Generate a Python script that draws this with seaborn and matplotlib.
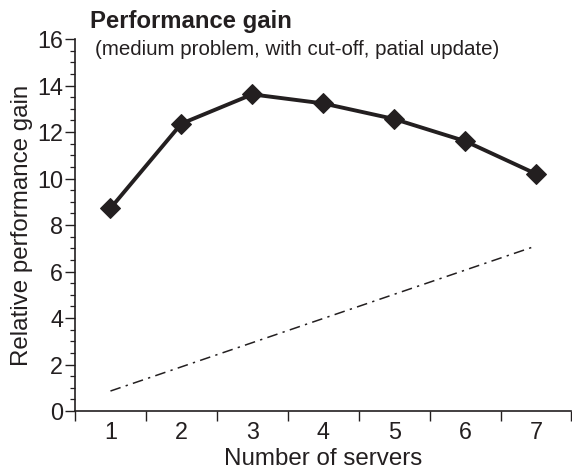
import matplotlib
matplotlib.use("Agg")
import matplotlib.pyplot as plt
from matplotlib.ticker import MultipleLocator
import seaborn as sns
import pandas as pd

servers = [1, 2, 3, 4, 5, 6, 7]
gain = [8.72, 12.36, 13.62, 13.23, 12.56, 11.61, 10.20]
linear_x = [1, 7]
linear_y = [0.86, 7.10]

title = "Performance gain"
subtitle = "(medium problem, with cut-off, patial update)"
xlabel = "Number of servers"
ylabel = "Relative performance gain"

ink = "#231f20"

sns.set_style("ticks")
plt.rcParams["font.family"] = ["Liberation Sans", "DejaVu Sans"]

fig = plt.figure(figsize=(5.72, 4.72), dpi=100)
ax = fig.add_axes([0.1311, 0.1292, 0.8680, 0.7881])

main = pd.DataFrame({"servers": servers, "gain": gain})
ref = pd.DataFrame({"servers": linear_x, "gain": linear_y})

sns.lineplot(data=ref, x="servers", y="gain", ax=ax, color=ink, lw=1.1,
             linestyle=(0, (7, 3.5, 1.5, 3.5)))
sns.lineplot(data=main, x="servers", y="gain", ax=ax, color=ink, lw=2.8,
             marker="D", markersize=10.5, markeredgecolor=ink,
             markerfacecolor=ink)

ax.set_xlim(0.5, 7.5)
ax.set_ylim(0, 16)
ax.set_xticks([x + 0.5 for x in [0] + servers])
ax.set_xticklabels([])
ax.set_xticks(servers, minor=True)
ax.set_xticklabels([str(s) for s in servers], minor=True)
ax.tick_params(axis="x", which="major", length=7.5, width=1, color=ink)
ax.tick_params(axis="x", which="minor", length=0, labelsize=16.8,
               labelcolor=ink, pad=7.5)
ax.yaxis.set_major_locator(MultipleLocator(2))
ax.yaxis.set_minor_locator(MultipleLocator(0.5))
ax.tick_params(axis="y", which="major", length=7, width=1, color=ink,
               labelsize=16.8, labelcolor=ink, pad=1.5)
ax.tick_params(axis="y", which="minor", length=3.6, width=0.9, color=ink)

ax.set_xlabel(xlabel, fontsize=17.4, color=ink, labelpad=2.5)
ax.set_ylabel(ylabel, fontsize=17.4, color=ink, labelpad=3)

sns.despine(ax=ax)
for side in ("left", "bottom"):
    ax.spines[side].set_linewidth(1.2)
    ax.spines[side].set_color(ink)

fig.text(90 / 572, 1 - 28 / 472, title, fontsize=17.2, fontweight="bold",
         color=ink, ha="left", va="baseline")
fig.text(95 / 572, 1 - 55 / 472, subtitle, fontsize=14.8, color=ink,
         ha="left", va="baseline")

fig.savefig("out.png", dpi=100, facecolor="white")
